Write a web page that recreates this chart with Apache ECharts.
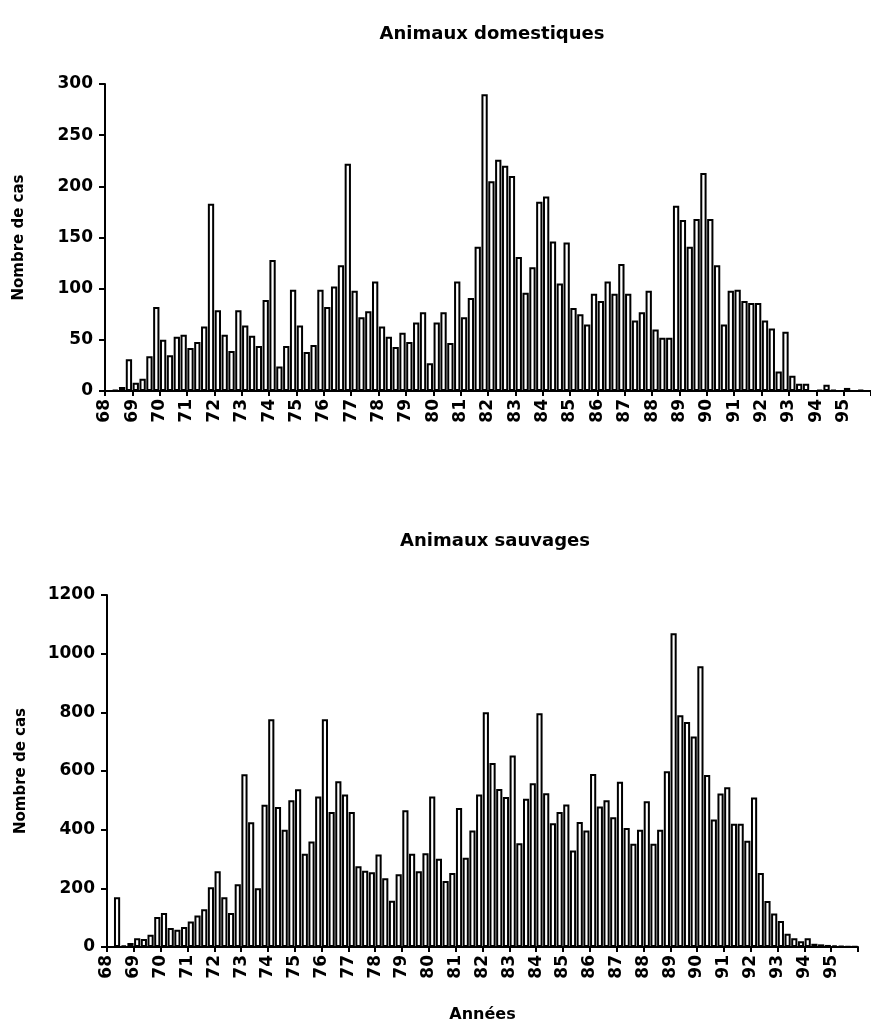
<!DOCTYPE html>
<html><head><meta charset="utf-8">
<script src="https://cdn.jsdelivr.net/npm/echarts@6/dist/echarts.min.js"></script>
<style>html,body{margin:0;padding:0;background:#fff}#c{width:871px;height:1026px}</style>
</head><body><div id="c"></div>
<script>
const years = ['68','69','70','71','72','73','74','75','76','77','78','79','80','81','82','83','84','85','86','87','88','89','90','91','92','93','94','95'];
const yearTicks = years.concat(['']);
const quarters = years.flatMap(y => ['T1','T2','T3','T4'].map(q => y + q));

const domestiques = [
  0, 1, 4, 31,      8, 12, 34, 82,     50, 35, 53, 55,     42, 48, 63, 183,
  79, 55, 39, 79,   64, 54, 44, 89,    128, 24, 44, 99,    64, 38, 45, 99,
  82, 102, 123, 222, 98, 72, 78, 107,  63, 53, 43, 57,     48, 67, 77, 27,
  67, 77, 47, 107,  72, 91, 141, 290,  205, 226, 220, 210, 131, 96, 121, 185,
  190, 146, 105, 145, 81, 75, 65, 95,  88, 107, 95, 124,   95, 69, 77, 98,
  60, 52, 52, 181,  167, 141, 168, 213, 168, 123, 65, 98,  99, 88, 86, 86,
  69, 61, 19, 58,   15, 7, 7, 0,       1, 6, 1, 0,         3, 0, 1, 0
];
const sauvages = [
  0, 170, 5, 14,     30, 27, 42, 102,    116, 65, 59, 68,    87, 107, 129, 204,
  258, 170, 116, 214, 589, 425, 200, 485, 776, 477, 400, 500, 538, 318, 360, 513,
  776, 460, 565, 520, 460, 275, 260, 255, 315, 234, 158, 248, 466, 318, 258, 320,
  513, 301, 225, 252, 474, 304, 397, 520, 800, 627, 539, 511, 653, 354, 505, 558,
  797, 524, 422, 460, 486, 329, 426, 397, 590, 479, 500, 442, 563, 406, 352, 400,
  497, 352, 400, 599, 1070, 790, 767, 718, 957, 586, 435, 523, 545, 420, 420, 362,
  510, 252, 157, 114, 89, 45, 30, 20,     30, 11, 9, 7,       5, 3, 2, 1
];

const FONT = 'DejaVu Sans';
const black = '#000';
const lineSt = {color: black, width: 2};

function barAxis(g) {
  return {gridIndex: g, type: 'category', data: quarters, position: 'bottom',
    axisLine: {show: true, lineStyle: lineSt}, axisTick: {show: false}, axisLabel: {show: false}};
}
function yearAxis(g, extra) {
  return Object.assign({gridIndex: g, type: 'category', data: yearTicks, boundaryGap: false, position: 'bottom', offset: 0,
    axisLine: {show: false},
    axisTick: {show: true, interval: 0, length: 5, lineStyle: lineSt},
    axisLabel: {interval: 0, rotate: 90, margin: 8, fontFamily: FONT, fontWeight: 'bold', fontSize: 17, color: black},
    splitLine: {show: false}}, extra || {});
}
function valAxis(g, max, interval) {
  return {gridIndex: g, type: 'value', min: 0, max: max, interval: interval,
    axisLine: {show: true, lineStyle: lineSt},
    axisTick: {show: true, length: 6, lineStyle: lineSt},
    splitLine: {show: false},
    axisLabel: {margin: 12, fontFamily: FONT, fontWeight: 'bold', fontSize: 17, color: black,
      formatter: v => String(v)},
    name: 'Nombre de cas', nameLocation: 'middle', nameRotate: 90, nameGap: 78,
    nameTextStyle: {fontFamily: FONT, fontWeight: 'bold', fontSize: 15, color: black}};
}
const barStyle = {color: '#fff', borderColor: black, borderWidth: 2};

const chart = echarts.init(document.getElementById('c'), null, {renderer: 'canvas'});
chart.setOption({
  animation: false,
  backgroundColor: '#fff',
  title: [
    {text: 'Animaux domestiques', left: 487, top: 20, textAlign: 'center',
     textStyle: {fontFamily: FONT, fontWeight: 'bold', fontSize: 18, color: black}},
    {text: 'Animaux sauvages', left: 490, top: 527, textAlign: 'center',
     textStyle: {fontFamily: FONT, fontWeight: 'bold', fontSize: 18, color: black}}
  ],
  grid: [
    {left: 105, top: 84, width: 767, height: 307},
    {left: 107, top: 595, width: 751, height: 352}
  ],
  xAxis: [
    barAxis(0), yearAxis(0),
    barAxis(1), yearAxis(1, {name: 'Années', nameLocation: 'middle', nameGap: 60,
      nameTextStyle: {fontFamily: FONT, fontWeight: 'bold', fontSize: 16, color: black}})
  ],
  yAxis: [valAxis(0, 300, 50), valAxis(1, 1200, 200)],
  series: [
    {type: 'bar', xAxisIndex: 0, yAxisIndex: 0, data: domestiques, barCategoryGap: '8%', itemStyle: barStyle, silent: true},
    {type: 'bar', xAxisIndex: 2, yAxisIndex: 1, data: sauvages, barCategoryGap: '8%', itemStyle: barStyle, silent: true}
  ]
});
</script></body></html>
